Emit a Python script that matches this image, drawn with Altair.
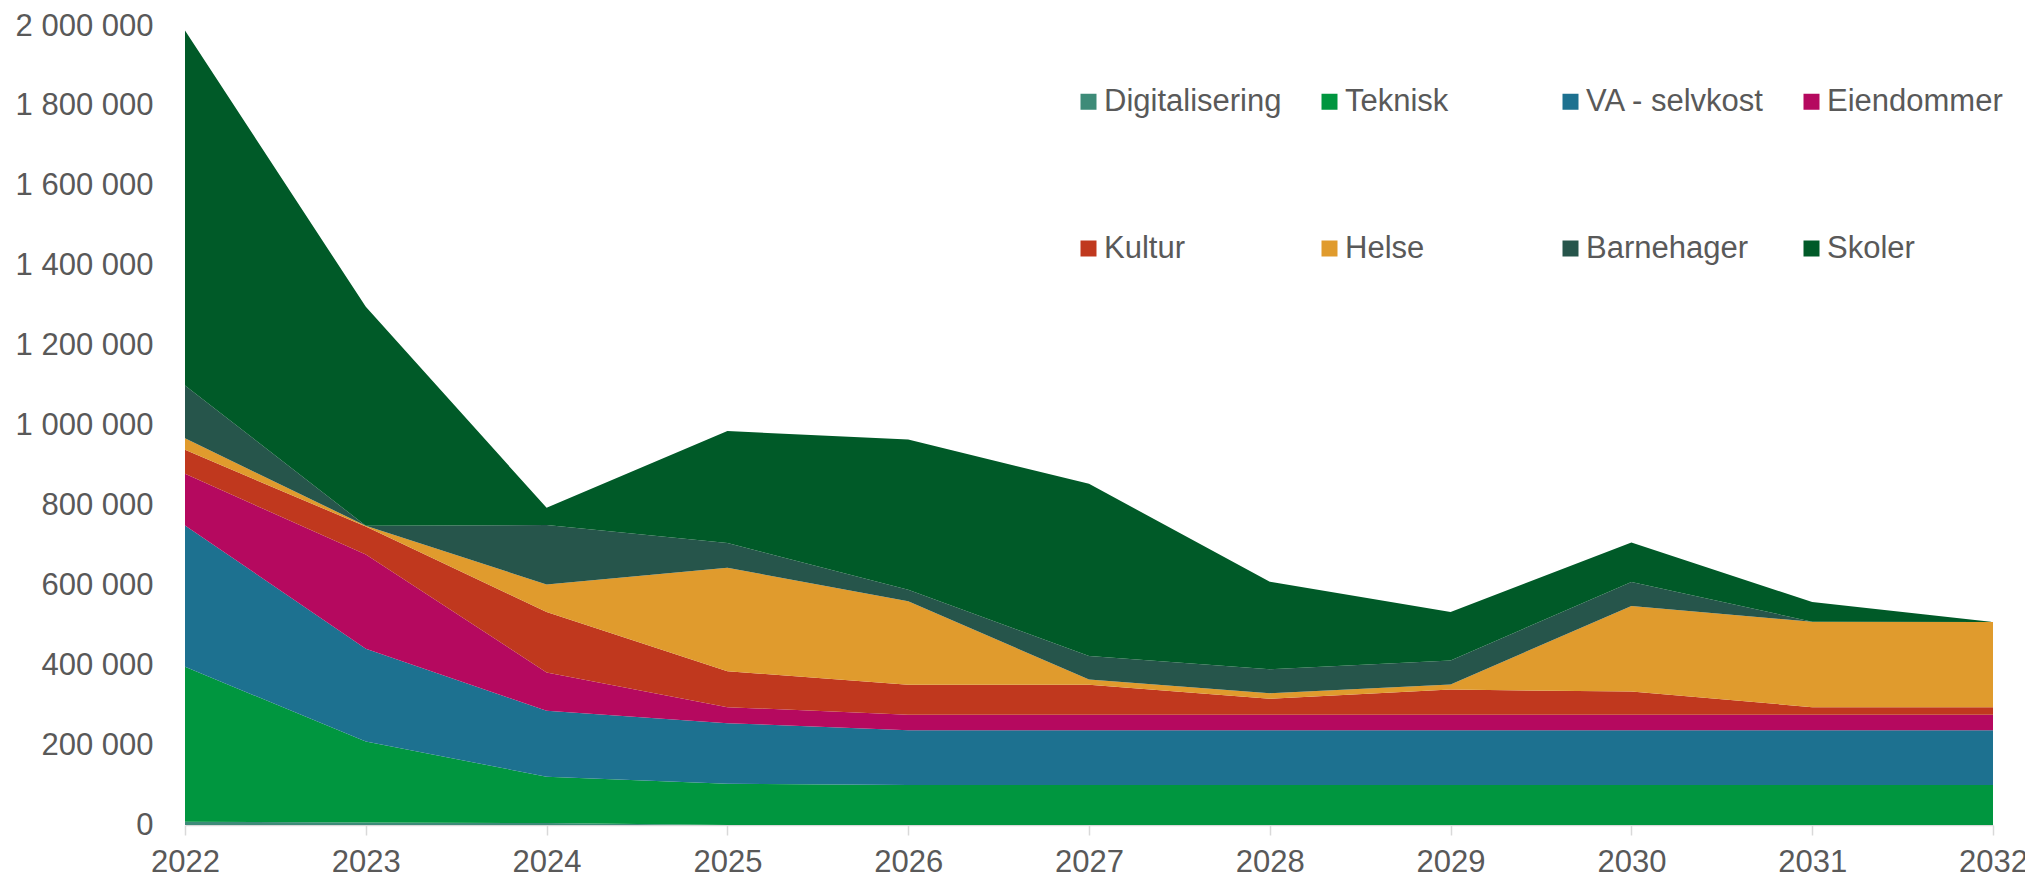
import altair as alt
import pandas as pd

years = [2022, 2023, 2024, 2025, 2026, 2027, 2028, 2029, 2030, 2031, 2032]
categories = ["Digitalisering", "Teknisk", "VA - selvkost", "Eiendommer",
              "Kultur", "Helse", "Barnehager", "Skoler"]
colors = ["#3d8b78", "#00963f", "#1d7190", "#b5095f",
          "#c0381e", "#e09b2d", "#26554b", "#005a28"]

digitalisering = [8000, 6000, 5000, 0, 0, 0, 0, 0, 0, 0, 0]
teknisk = [388000, 203000, 116000, 103000, 100000, 100000, 100000, 100000, 100000, 100000, 100000]
va_selvkost = [354000, 232000, 165000, 152000, 137000, 137000, 137000, 137000, 137000, 137000, 137000]
eiendommer = [129000, 236000, 96000, 40000, 39000, 39000, 39000, 39000, 39000, 39000, 39000]
kultur = [60000, 70000, 151000, 90000, 75000, 75000, 40000, 63000, 58000, 19000, 19000]
helse = [29000, 2000, 69000, 259000, 209000, 13000, 14000, 13000, 214000, 214000, 213000]
barnehager = [132000, 0, 149000, 62000, 29000, 59000, 60000, 60000, 60000, 0, 0]
skoler = [889000, 548000, 43000, 280000, 376000, 431000, 219000, 121000, 99000, 49000, 0]

series = [digitalisering, teknisk, va_selvkost, eiendommer, kultur, helse, barnehager, skoler]

rows = []
for i, (cat, vals) in enumerate(zip(categories, series)):
    for y, v in zip(years, vals):
        rows.append({"year": y, "kategori": cat, "value": v, "idx": i})
df = pd.DataFrame(rows)

FONT = "Liberation Sans"
GREY = "#595959"

chart = alt.Chart(df).mark_area(opacity=1).encode(
    x=alt.X("year:Q",
            scale=alt.Scale(domain=[2022, 2032], nice=False, zero=False),
            axis=alt.Axis(values=years, format="d", title=None, grid=False,
                          labelFontSize=31, labelColor=GREY, labelFont=FONT,
                          labelPadding=12, tickSize=10, tickColor="#d9d9d9",
                          tickWidth=1.5, domainColor="#d9d9d9", domainWidth=1.5,
                          labelFlush=False)),
    y=alt.Y("value:Q", stack="zero",
            scale=alt.Scale(domain=[0, 2000000], nice=False),
            axis=alt.Axis(values=list(range(0, 2000001, 200000)), title=None,
                          grid=False, domain=False, ticks=False, tickSize=0,
                          labelFontSize=31, labelColor=GREY, labelFont=FONT,
                          labelPadding=32,
                          labelExpr="replace(format(datum.value, ','), /,/g, ' ')")),
    color=alt.Color("kategori:N",
                    scale=alt.Scale(domain=categories, range=colors),
                    legend=alt.Legend(title=None, orient="none", legendX=888, legendY=60,
                                      direction="horizontal",
                                      columns=4, gridAlign="all", columnPadding=31,
                                      rowPadding=115, symbolType="square",
                                      symbolSize=256, symbolStrokeWidth=0,
                                      symbolOpacity=1, labelFontSize=31,
                                      labelFont=FONT, labelColor=GREY,
                                      labelOffset=0, labelLimit=400, padding=0)),
    order=alt.Order("idx:Q", sort="ascending"),
).properties(
    width=1808,
    height=799,
    autosize=alt.AutoSizeParams(type="none"),
    padding={"left": 177, "top": 18, "right": 32, "bottom": 56},
).configure_view(stroke=None)

chart.save("out.html", embed_options={"renderer": "svg", "actions": False})
